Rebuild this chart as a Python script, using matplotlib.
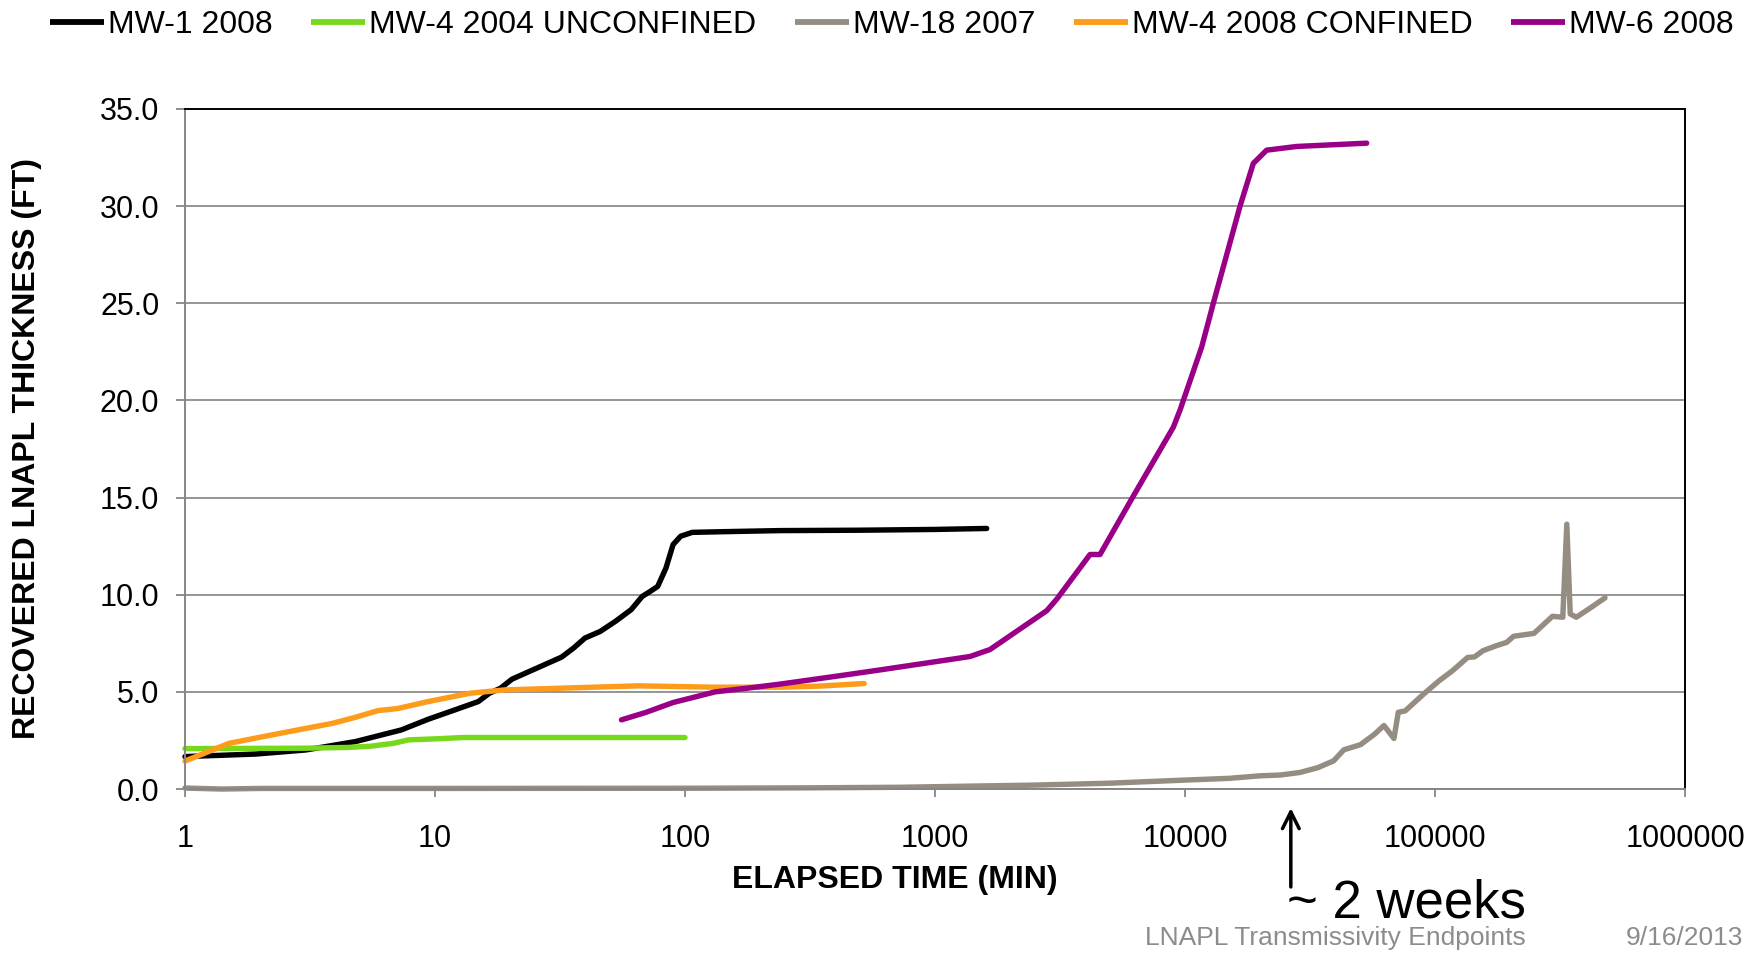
import matplotlib
matplotlib.use("Agg")
import matplotlib.pyplot as plt
from matplotlib.ticker import FixedLocator, NullLocator, FuncFormatter

plt.rcParams['font.family'] = ['Liberation Sans', 'DejaVu Sans']

# elapsed time (min) and recovered thickness (ft) for each well
mw1_t = [1.0, 1.92, 3.04, 4.8, 7.33, 9.39, 12.0, 14.9, 16.5, 18.3, 20.3, 32.1, 35.8, 39.8,
         45.8, 52.7, 60.9, 67.4, 72.6, 77.8, 83.9, 89.6, 96.1, 107, 150, 240, 500, 1000, 1610]
mw1_v = [1.67, 1.80, 2.01, 2.44, 3.04, 3.59, 4.07, 4.50, 4.93, 5.19, 5.65, 6.79, 7.25, 7.77,
         8.11, 8.63, 9.23, 9.91, 10.17, 10.43, 11.37, 12.58, 13.01, 13.21, 13.25, 13.3, 13.32, 13.36, 13.41]

mw4_04_t = [1.0, 3.0, 4.5, 5.5, 6.8, 7.86, 10.0, 12.9, 50, 100]
mw4_04_v = [2.08, 2.10, 2.14, 2.2, 2.35, 2.53, 2.58, 2.65, 2.65, 2.65]

mw18_t = [1.0, 1.4, 2.0, 10, 100, 300, 724, 2470, 5000, 10000, 15000, 20000, 24000, 28800,
          34000, 39300, 43200, 50300, 57300, 62500, 68500, 71300, 75900, 91600, 103800, 117500,
          135000, 143900, 155600, 176300, 193700, 206000, 248700, 295000, 324400, 336600,
          347400, 367500, 422600, 478600]
mw18_v = [0.05, 0.0, 0.03, 0.03, 0.04, 0.06, 0.09, 0.2, 0.3, 0.46, 0.55, 0.68, 0.72, 0.85,
          1.1, 1.45, 2.02, 2.28, 2.82, 3.27, 2.6, 3.95, 4.02, 4.97, 5.57, 6.09,
          6.77, 6.8, 7.12, 7.38, 7.55, 7.86, 8.01, 8.89, 8.84, 13.63,
          9.01, 8.84, 9.36, 9.84]

mw4_08_t = [1.0, 1.5, 2.06, 2.93, 3.89, 4.8, 5.93, 7.07, 9.39, 13.8, 19.0, 32.1, 65.1, 132, 240, 350, 521]
mw4_08_v = [1.44, 2.35, 2.70, 3.08, 3.38, 3.69, 4.04, 4.14, 4.50, 4.93, 5.10, 5.19, 5.31, 5.24, 5.24, 5.3, 5.43]

mw6_t = [55.7, 70, 89.5, 132, 180, 240, 400, 603, 1000, 1380, 1660, 2800, 3068, 4169, 4571,
         6214, 8980, 9550, 11660, 12980, 16600, 18760, 21210, 27970, 53300]
mw6_v = [3.56, 3.95, 4.45, 5.0, 5.2, 5.4, 5.8, 6.13, 6.55, 6.82, 7.18, 9.18, 9.77, 12.07, 12.07,
         15.08, 18.62, 19.5, 22.75, 25.0, 30.0, 32.2, 32.88, 33.07, 33.24]

series = [
    ("MW-1 2008", mw1_t, mw1_v, "black"),
    ("MW-4 2004 UNCONFINED", mw4_04_t, mw4_04_v, "#78d81c"),
    ("MW-18 2007", mw18_t, mw18_v, "#968d82"),
    ("MW-4 2008 CONFINED", mw4_08_t, mw4_08_v, "#fd9b1a"),
    ("MW-6 2008", mw6_t, mw6_v, "#990087"),
]

x_ticks = [1, 10, 100, 1000, 10000, 100000, 1000000]
y_ticks = [0, 5, 10, 15, 20, 25, 30, 35]

fig = plt.figure(figsize=(17.6, 9.55), dpi=100)
ax = fig.add_axes([0.1051, 0.1738, 0.8523, 0.7121])

lines = []
for name, t, v, c in series:
    ln, = ax.plot(t, v, color=c, lw=3.9, label=name, clip_on=False,
                  solid_joinstyle='round', solid_capstyle='round')
    lines.append(ln)

ax.set_xscale('log')
ax.set_xlim(1, 1000000)
ax.set_ylim(0, 35)
ax.xaxis.set_major_locator(FixedLocator(x_ticks))
ax.xaxis.set_minor_locator(NullLocator())
ax.xaxis.set_major_formatter(FuncFormatter(lambda x, p: "%d" % x))
ax.set_yticks(y_ticks)
ax.yaxis.set_major_formatter(FuncFormatter(lambda y, p: "%.1f" % y))

ax.yaxis.grid(True, color='#8c8c8c', lw=1.3)
ax.set_axisbelow(True)
for s in ['left', 'bottom']:
    ax.spines[s].set_color('#868686')
    ax.spines[s].set_linewidth(1.4)
for s in ['top', 'right']:
    ax.spines[s].set_color('black')
    ax.spines[s].set_linewidth(1.4)

ax.tick_params(axis='x', length=6, width=1.3, color='#868686', labelsize=22, pad=19)
ax.tick_params(axis='y', length=6.5, width=1.3, color='#868686', labelsize=22, pad=12)

ax.set_xlabel("ELAPSED TIME (MIN)", fontsize=23, fontweight='bold', va='center')
ax.xaxis.set_label_coords(0.4733, -0.1338)
ax.set_ylabel("RECOVERED LNAPL THICKNESS (FT)", fontsize=23, fontweight='bold', va='center')
ax.yaxis.set_label_coords(-0.1055, 0.5)

leg = fig.legend(handles=lines, loc='center left', bbox_to_anchor=(50 / 1760, 1 - 25 / 955),
                 ncol=5, frameon=False, fontsize=23, handlelength=1.7, handletextpad=0.12,
                 columnspacing=1.2, borderpad=0, borderaxespad=0)
for h in leg.get_lines():
    h.set_solid_capstyle('butt')
    h.set_linewidth(4.2)

# two-week marker below the axis
ax.annotate('', xy=(26500, -0.028), xycoords=('data', 'axes fraction'),
            xytext=(26500, -0.144), textcoords=('data', 'axes fraction'),
            arrowprops=dict(arrowstyle='->', lw=2.5, color='black', mutation_scale=30,
                            shrinkA=0, shrinkB=0),
            annotation_clip=False)
fig.text(1287 / 1760, 1 - 903 / 955, "~ 2 weeks", fontsize=38, va='center', ha='left')

fig.text(1145 / 1760, 1 - 938 / 955, "LNAPL Transmissivity Endpoints", fontsize=19,
         color='#8c8c8c', va='center', ha='left')
fig.text(1743 / 1760, 1 - 938 / 955, "9/16/2013", fontsize=19,
         color='#8c8c8c', va='center', ha='right')

fig.savefig("out.png", dpi=100)
